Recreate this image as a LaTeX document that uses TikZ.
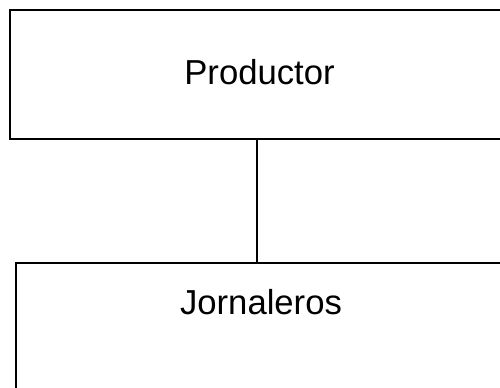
\documentclass[tikz,border=0pt]{standalone}
\usepackage{fontspec}
\setmainfont{Liberation Sans}
\usepackage{tikz}
\usetikzlibrary{positioning}

\tikzset{
  boxnode/.style={draw, line width=2.2pt, rectangle, inner sep=0pt,
                  outer sep=0pt, font=\fontsize{26}{31}\selectfont,
                  anchor=north west},
  link/.style={line width=2.2pt}
}

\begin{document}
\begin{tikzpicture}[x=0.75pt,y=-0.75pt]
\useasboundingbox (0,0) rectangle (500,388);

\node[boxnode, minimum width=374.25pt, text height=56.25pt,
      text depth=40.5pt] (prod) at (10,10) {Productor};

\node[boxnode, minimum width=367.5pt, text height=39pt,
      text depth=75pt] (jorn) at (16,263) {Jornaleros};

\draw[link] ([xshift=-1.9pt]prod.south) -- ([xshift=-1.9pt]prod.south |- jorn.north);
\end{tikzpicture}
\end{document}
